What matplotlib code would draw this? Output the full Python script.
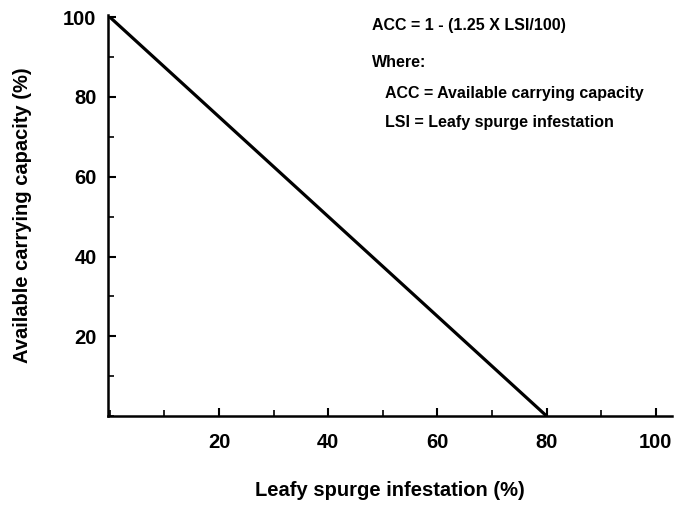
import matplotlib.pyplot as plt
from matplotlib.ticker import MultipleLocator

plt.rcParams['font.family'] = ['Liberation Sans', 'DejaVu Sans']

# ACC = 1 - (1.25 x LSI/100), drawn as a straight line
lsi = [0, 80]
acc = [100, 0]
x_ticks = [20, 40, 60, 80, 100]
y_ticks = [20, 40, 60, 80, 100]

fig = plt.figure(figsize=(6.86, 5.05), dpi=100)
ax = fig.add_axes([0.157, 0.176, 0.823, 0.794])

ax.plot(lsi, acc, color='black', linewidth=2.3, solid_capstyle='butt')

ax.set_xlim(-0.4, 103)
ax.set_ylim(0, 100.5)
ax.set_xticks(x_ticks)
ax.set_yticks(y_ticks)
ax.xaxis.set_minor_locator(MultipleLocator(10))
ax.yaxis.set_minor_locator(MultipleLocator(10))

for side in ['top', 'right']:
    ax.spines[side].set_visible(False)
for side in ['left', 'bottom']:
    ax.spines[side].set_linewidth(1.8)

ax.tick_params(which='major', direction='in', length=6, width=1.5, labelsize=14.5)
ax.tick_params(which='minor', direction='in', length=4, width=1.2)
ax.tick_params(axis='x', which='major', pad=12)
ax.tick_params(axis='y', which='major', pad=8)
for lbl in ax.get_xticklabels() + ax.get_yticklabels():
    lbl.set_fontweight('bold')

ax.set_xlabel('Leafy spurge infestation (%)', fontsize=14.5, fontweight='bold')
ax.set_ylabel('Available carrying capacity (%)', fontsize=14.5, fontweight='bold')
ax.xaxis.set_label_coords(0.5, -0.1845)
ax.xaxis.label.set_va('center')
ax.yaxis.set_label_coords(-0.151, 0.5)
ax.yaxis.label.set_va('center')

# equation block, top right
notes = [
    (372, 30, 'ACC = 1 - (1.25 X LSI/100)'),
    (372, 67, 'Where:'),
    (385, 98, 'ACC = Available carrying capacity'),
    (385, 127, 'LSI = Leafy spurge infestation'),
]
for px, py, txt in notes:
    fig.text(px / 686, 1 - py / 505, txt, fontsize=11.5, fontweight='bold',
             va='baseline', ha='left')

fig.savefig('out.png', dpi=100)
